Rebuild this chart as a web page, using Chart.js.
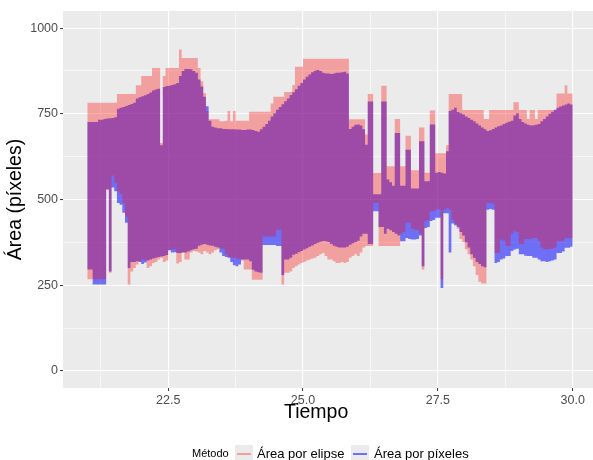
<!DOCTYPE html>
<html lang="es">
<head>
<meta charset="utf-8">
<title>Área por método</title>
<script src="https://cdn.jsdelivr.net/npm/chart.js@4.4.1/dist/chart.umd.min.js"></script>
<style>
  html, body { margin: 0; padding: 0; background: #ffffff; overflow: hidden; }
  #lienzo { position: relative; width: 593px; height: 460px; overflow: hidden; font-family: "Liberation Sans", Arial, sans-serif; }
  #grafico { position: absolute; left: 0; top: 0; }
  .ley { position: absolute; white-space: nowrap; line-height: 1; color: #000; }
  .clave { position: absolute; top: 445px; width: 18px; height: 17px; background: #ebebeb; }
  .clave span { position: absolute; left: 2px; right: 2px; top: 7.5px; height: 2px; }
</style>
</head>
<body>
<div id="lienzo">
  <canvas id="grafico" width="604" height="460"></canvas>
  <div class="ley" style="left:284px; top:402px; font-size:19.5px;">Tiempo</div>
  <div class="ley" style="left:192px; top:448px; font-size:11px;">Método</div>
  <div class="clave" style="left:235px;"><span style="background:#f1a0a0;"></span></div>
  <div class="ley" style="left:257px; top:447px; font-size:13px;">Área por elipse</div>
  <div class="clave" style="left:351px;"><span style="background:#6e6efa;"></span></div>
  <div class="ley" style="left:374px; top:447px; font-size:13px;">Área por píxeles</div>
</div>
<script>
// Muestreo temporal: un valor cada 0.05 s desde t = 21.0 hasta t = 30.0
const tInicio = 21.0;
const paso = 0.05;

// Envolvente superior e inferior del área por elipse
const elipseMax = [
  782,782,782,782,782,782,782,782,782,782,
  782,808,808,808,808,808,808,808,833,833,
  860,860,860,860,884,884,884,665,860,884,
  884,884,884,884,938,913,913,913,913,913,
  913,884,845,811,758,734,734,734,734,728,
  728,730,758,728,758,730,730,730,730,730,
  756,756,756,756,756,756,756,756,780,800,
  800,800,800,814,814,814,834,887,887,887,
  911,911,911,911,911,911,911,911,911,911,
  911,911,911,911,911,911,911,734,734,734,
  734,734,734,690,808,808,577,577,577,832,
  832,597,597,597,735,735,597,597,686,686,
  585,585,585,710,710,578,578,760,760,635,
  635,635,635,658,808,808,808,808,808,761,
  761,761,761,761,761,761,761,735,735,761,
  761,761,761,761,761,761,761,761,784,784,
  761,761,761,735,761,761,735,761,761,761,
  761,761,761,761,809,809,809,833,809,809,809
];
const elipseMin = [
  267,267,267,267,267,267,267,529,286,570,
  549,524,515,490,450,252,290,300,310,320,
  325,322,300,305,315,318,325,330,318,322,
  352,355,355,313,318,344,325,325,345,350,
  348,345,340,350,345,340,345,352,355,358,
  356,340,332,330,330,328,326,322,296,296,
  296,266,266,266,266,392,392,392,392,392,
  412,412,252,286,286,290,300,305,310,315,
  318,322,325,328,330,335,340,344,335,325,
  325,320,315,315,318,315,318,330,335,340,
  335,345,360,364,364,364,490,490,364,364,
  364,364,364,364,364,364,400,405,432,432,
  415,412,412,400,296,437,440,466,466,471,
  471,267,470,476,470,441,430,415,385,375,
  355,340,325,305,280,260,255,255,490,490,
  488,344,344,383,380,364,364,400,407,405,
  370,370,385,385,385,388,388,380,360,355,
  355,355,358,360,378,378,380,388,388,388,388
];

// Envolvente superior e inferior del área por píxeles
const pixelMax = [
  726,726,726,726,733,733,735,736,737,738,
  740,765,768,770,773,776,779,782,795,798,
  801,804,808,812,818,821,823,658,828,831,
  832,834,836,840,860,875,881,881,880,875,
  870,850,830,800,772,730,712,710,708,708,
  706,706,705,705,705,704,704,703,703,704,
  704,703,700,698,705,712,720,730,742,752,
  762,770,778,787,795,805,813,822,832,840,
  850,858,865,871,876,878,875,870,868,868,
  866,868,870,870,871,873,868,706,712,718,
  719,716,705,660,786,786,515,515,515,786,
  786,558,550,540,694,694,540,540,645,645,
  532,532,532,670,670,553,553,719,719,578,
  580,578,576,641,758,762,768,755,752,748,
  742,738,733,728,722,716,710,705,700,702,
  706,710,714,716,720,724,727,730,745,752,
  735,726,722,718,716,717,718,720,728,735,
  742,750,756,762,768,771,774,777,780,777,775
];
const pixelMin = [
  296,296,252,252,252,252,252,529,290,535,
  524,490,485,461,432,300,318,318,320,318,
  312,316,322,325,328,330,332,334,335,338,
  352,345,346,344,344,346,345,348,352,355,
  356,365,368,370,368,366,365,362,360,345,
  335,332,330,318,308,305,310,325,325,325,
  320,295,290,288,286,367,367,367,367,367,
  364,364,280,325,325,330,339,342,346,350,
  354,358,362,366,370,374,377,379,378,376,
  370,365,362,360,360,360,362,368,372,376,
  380,392,400,400,370,370,466,466,420,420,
  400,415,410,405,400,395,378,378,388,385,
  383,383,385,395,305,417,420,437,440,447,
  447,242,460,460,345,430,425,420,405,395,
  375,360,340,330,318,312,305,302,470,472,
  470,315,318,325,328,335,335,350,354,356,
  340,340,336,335,335,330,330,325,320,320,
  318,320,322,325,344,344,348,359,359,362,362
];

// Marcas de los ejes (principales con etiqueta, secundarias solo rejilla)
const xPrincipales = [22.5, 25.0, 27.5, 30.0];
const xSecundarias = [21.25, 23.75, 26.25, 28.75];
const yPrincipales = [0, 250, 500, 750, 1000];
const ySecundarias = [125, 375, 625, 875];

const tiempos = elipseMax.map((_, i) => +(tInicio + i * paso).toFixed(2));

const rojo = 'rgba(255, 0, 0, 0.32)';
const azul = 'rgba(0, 0, 255, 0.53)';
const fuente = '"Liberation Sans", Arial, sans-serif';

function serie(etiqueta, valores, color, relleno, orden) {
  return {
    label: etiqueta,
    data: tiempos.map((t, i) => ({ x: t, y: valores[i] })),
    stepped: true,
    borderWidth: 0,
    borderColor: 'transparent',
    backgroundColor: color,
    pointRadius: 0,
    fill: relleno,
    order: orden
  };
}

// Fondo gris del panel
const fondoPanel = {
  id: 'fondoPanel',
  beforeDraw(chart) {
    const { ctx, chartArea: a } = chart;
    ctx.save();
    ctx.fillStyle = '#ebebeb';
    ctx.fillRect(a.left, a.top, a.right - a.left, a.bottom - a.top);
    ctx.restore();
  }
};

function ejeGrid(principales) {
  return {
    color: '#ffffff',
    lineWidth: c => principales.includes(c.tick.value) ? 1.1 : 0.55,
    drawTicks: true,
    tickLength: 3,
    tickWidth: 1,
    tickColor: c => principales.includes(c.tick.value) ? '#333333' : 'rgba(0,0,0,0)'
  };
}

new Chart(document.getElementById('grafico'), {
  type: 'line',
  data: {
    datasets: [
      serie('Área por elipse', elipseMax, rojo, { target: 1 }, 0),
      serie('elipse mínimo', elipseMin, rojo, false, 0),
      serie('Área por píxeles', pixelMax, azul, { target: 3 }, 1),
      serie('píxeles mínimo', pixelMin, azul, false, 1)
    ]
  },
  options: {
    responsive: false,
    devicePixelRatio: 1,
    animation: false,
    layout: { padding: { left: 0, top: 11, right: 7, bottom: 0 } },
    plugins: { legend: { display: false }, tooltip: { enabled: false } },
    scales: {
      x: {
        type: 'linear',
        min: 20.55,
        max: 30.45,
        afterBuildTicks: s => { s.ticks = [...xSecundarias, ...xPrincipales].sort((a, b) => a - b).map(v => ({ value: v })); },
        afterFit: s => { s.height = 72; },
        border: { display: false },
        grid: ejeGrid(xPrincipales),
        ticks: {
          autoSkip: false,
          maxRotation: 0,
          padding: 2,
          color: '#4d4d4d',
          font: { family: fuente, size: 12.5 },
          callback: v => xPrincipales.includes(v) ? v.toFixed(1) : ''
        },
        title: { display: false }
      },
      y: {
        type: 'linear',
        min: -50,
        max: 1050,
        afterBuildTicks: s => { s.ticks = [...yPrincipales, ...ySecundarias].sort((a, b) => a - b).map(v => ({ value: v })); },
        afterFit: s => { s.width = 63; },
        border: { display: false },
        grid: ejeGrid(yPrincipales),
        ticks: {
          autoSkip: false,
          padding: 2,
          color: '#4d4d4d',
          font: { family: fuente, size: 12.5 },
          callback: v => yPrincipales.includes(v) ? String(v) : ''
        },
        title: {
          display: true,
          text: 'Área (píxeles)',
          color: '#000000',
          font: { family: fuente, size: 19.5 },
          padding: { top: 4, bottom: 0 }
        }
      }
    }
  },
  plugins: [fondoPanel]
});
</script>
</body>
</html>
